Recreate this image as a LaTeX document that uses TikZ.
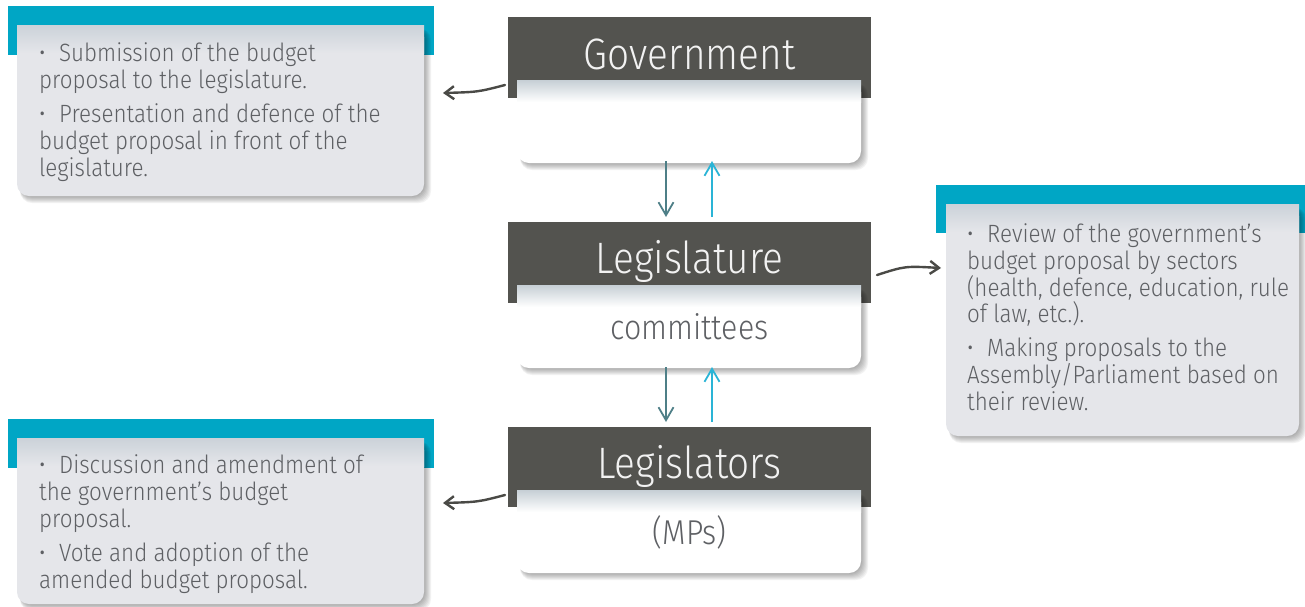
\documentclass[tikz,border=0pt]{standalone}
\usepackage{fontspec}
\setmainfont{Fira Sans Light}[FakeStretch=0.895]
\newfontfamily\hdrfont{Fira Sans Light}[FakeStretch=0.88]
\usetikzlibrary{arrows.meta}
\definecolor{hdr}{HTML}{53534F}
\definecolor{barteal}{HTML}{00A6C5}
\definecolor{boxgray}{HTML}{E5E6EA}
\definecolor{boxtop}{HTML}{CBD2D9}
\definecolor{wtop}{HTML}{C6CFD5}
\definecolor{txt}{HTML}{5E6064}
\definecolor{dnarr}{HTML}{4E7F87}
\definecolor{uparr}{HTML}{2AB4D6}
\definecolor{curv}{HTML}{4A4A46}
\newcommand\myshadow[4]{%
  \foreach \i in {1,...,7}{%
    \fill[black,opacity=0.05,rounded corners=12pt] ({#1+3},{#2+3}) rectangle ({#3+\i},{#4+\i});}}
\newcommand\graybox[4]{%
  \myshadow{#1}{#2}{#3}{#4}%
  \fill[boxgray,rounded corners=12pt] (#1,#2) rectangle (#3,#4);
  \shade[top color=boxtop,bottom color=boxgray] (#1,#2) rectangle (#3,{#2+28});}
\newcommand\whitebox[4]{%
  \myshadow{#1}{#2}{#3}{#4}%
  \fill[white,rounded corners=12pt] (#1,#2) rectangle (#3,#4);
  \shade[top color=wtop,bottom color=white] (#1,#2) rectangle (#3,{#2+22});}
\newcommand\bul{\makebox[20pt][l]{•}}
\tikzset{
  bodytext/.style={anchor=base west,inner sep=0pt,text=txt,font=\fontsize{25}{28}\selectfont},
  hdrtext/.style={anchor=base,inner sep=0pt,text=white!95!black,font=\hdrfont\fontsize{44}{50}\selectfont},
  subtext/.style={anchor=base,inner sep=0pt,text=txt,font=\hdrfont\fontsize{34.5}{38}\selectfont},
  dnarrow/.style={draw=dnarr,line width=1.8pt,-{Straight Barb[length=13pt,width=15pt]}},
  uparrow/.style={draw=uparr,line width=1.8pt,-{Straight Barb[length=13pt,width=15pt]}},
  curvearrow/.style={draw=curv,line width=2.4pt,line cap=round,-{Straight Barb[length=9pt,width=13pt]}}
}
\begin{document}
\begin{tikzpicture}[x=1pt,y=-1pt]
\useasboundingbox (0,0) rectangle (1305,606);
% info boxes
\fill[barteal] (8,6) rectangle (434,55);
\graybox{17}{25}{424}{196}
\fill[barteal] (936,185) rectangle (1305,233);
\graybox{946}{204}{1299}{436}
\fill[barteal] (8,419) rectangle (434,468);
\graybox{17}{438}{424}{604}
% central boxes
\fill[hdr] (508,17) rectangle (871,98);
\whitebox{517}{80}{861}{163}
\fill[hdr] (508,222) rectangle (871,303);
\whitebox{517}{285}{861}{368}
\fill[hdr] (508,427) rectangle (871,507);
\whitebox{517}{490}{861}{573}
% titles
\node[hdrtext] (gov) at (689.5,69) {Government};
\node[hdrtext] (leg) at (689.5,273) {Legislature};
\node[subtext] (com) at (689.5,339) {committees};
\node[hdrtext] (lgs) at (689.5,478) {Legislators};
\node[subtext] (mps) at (689.5,544) {(MPs)};
% top-left text
\node[bodytext] (a1) at (39,61) {\bul Submission of the budget};
\node[bodytext] (a2) at (39,88) {proposal to the legislature.};
\node[bodytext] (a3) at (39,122) {\bul Presentation and defence of the};
\node[bodytext] (a4) at (39,149) {budget proposal in front of the};
\node[bodytext] (a5) at (39,176) {legislature.};
% right text
\node[bodytext] (b1) at (967,242) {\bul Review of the government’s};
\node[bodytext] (b2) at (967,269) {budget proposal by sectors};
\node[bodytext] (b3) at (967,296) {(health, defence, education, rule};
\node[bodytext] (b4) at (967,322) {of law, etc.).};
\node[bodytext] (b5) at (967,356) {\bul Making proposals to the};
\node[bodytext] (b6) at (967,383) {Assembly/Parliament based on};
\node[bodytext] (b7) at (967,410) {their review.};
% bottom-left text
\node[bodytext] (c1) at (39,473) {\bul Discussion and amendment of};
\node[bodytext] (c2) at (39,500) {the government’s budget};
\node[bodytext] (c3) at (39,527) {proposal.};
\node[bodytext] (c4) at (39,561) {\bul Vote and adoption of the};
\node[bodytext] (c5) at (39,588) {amended budget proposal.};
% arrow end points
\coordinate (govdn) at (666,161);
\coordinate (legdnin) at (666,217);
\coordinate (legupout) at (712,217);
\coordinate (govupin) at (712,161);
\coordinate (legdn) at (666,367);
\coordinate (lgsdnin) at (666,422);
\coordinate (lgsupout) at (712,422);
\coordinate (legupin) at (712,367);
\coordinate (govl) at (505,85);
\coordinate (atip) at (443,93);
\coordinate (legr) at (877,275);
\coordinate (btip) at (941,268);
\coordinate (lgsl) at (505,495);
\coordinate (ctip) at (443,503);
% vertical arrows
\draw[dnarrow] (govdn) -- (legdnin);
\draw[uparrow] (legupout) -- (govupin);
\draw[dnarrow] (legdn) -- (lgsdnin);
\draw[uparrow] (lgsupout) -- (legupin);
% curved arrows
\draw[curvearrow] (govl) .. controls (478,92) .. (atip);
\draw[curvearrow] (legr) .. controls (905,266) .. (btip);
\draw[curvearrow] (lgsl) .. controls (478,502) .. (ctip);
\end{tikzpicture}
\end{document}
